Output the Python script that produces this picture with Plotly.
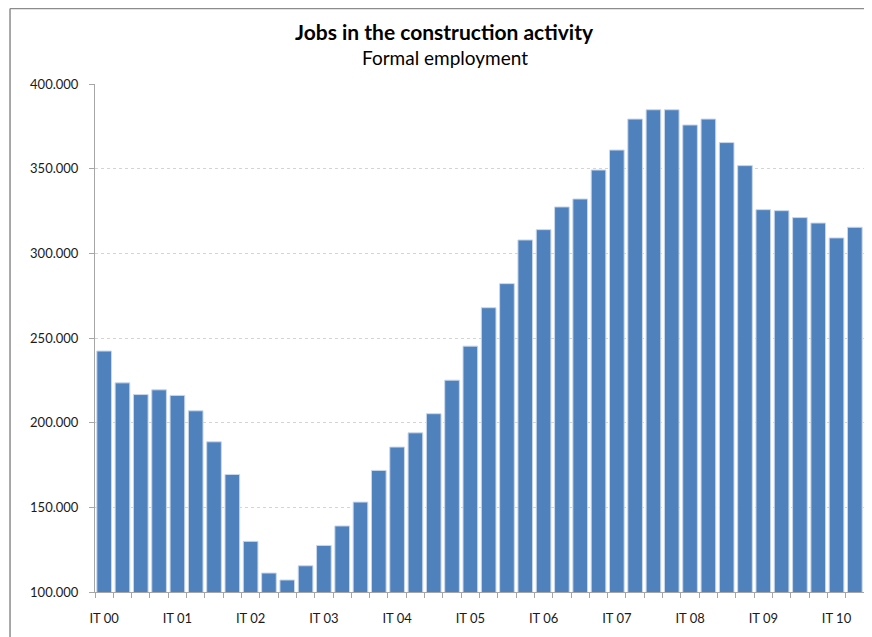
import plotly.graph_objects as go

# quarterly formal jobs in construction, 2000 Q1 .. 2010 Q2
quarters = [f"{q}T {y:02d}" for y in range(0, 11) for q in ("I", "II", "III", "IV")][:42]
jobs = [
    242300, 223500, 216600, 219400, 216100, 207000, 188700, 169400,
    129900, 111200, 107100, 115500, 127500, 139000, 153100, 171800,
    185600, 194000, 205300, 225100, 245200, 267900, 282100, 307900,
    314000, 327400, 332100, 349200, 361000, 379300, 384800, 384800,
    375800, 379300, 365400, 351800, 325800, 325200, 321100, 317900,
    309100, 315400,
]
tick_text = [q if q.startswith("IT ") else "" for q in quarters]

BAR_COLOR = "#4f81bd"
AXIS_COLOR = "#a6a6a6"
BORDER_COLOR = "#8c8c8c"
FONT = "Lato"


def build_figure() -> go.Figure:
    fig = go.Figure()
    fig.add_trace(
        go.Bar(
            x=quarters,
            y=jobs,
            marker=dict(color=BAR_COLOR, line=dict(color="#c9d7ea", width=1)),
            hoverinfo="x+y",
        )
    )

    fig.update_xaxes(
        type="category",
        tickmode="array",
        tickvals=quarters,
        ticktext=tick_text,
        tickson="boundaries",
        ticks="outside",
        ticklen=5,
        tickcolor=AXIS_COLOR,
        ticklabelstandoff=14,
        showline=True,
        linecolor=AXIS_COLOR,
        showgrid=False,
        tickangle=0,
        tickfont=dict(family=FONT, size=13, color="#1a1a1a"),
    )
    fig.update_yaxes(
        range=[100000, 400000],
        dtick=50000,
        tickformat=",d",
        ticks="outside",
        ticklen=5,
        tickcolor=AXIS_COLOR,
        ticklabelstandoff=8,
        showline=True,
        linecolor=AXIS_COLOR,
        gridcolor="#d4d4d4",
        griddash="dot",
        zeroline=False,
        tickfont=dict(family=FONT, size=13, color="#1a1a1a"),
    )

    # chart title and subtitle, centred on the whole chart box
    fig.add_annotation(
        text="<b>Jobs in the construction activity</b>",
        xref="paper", yref="paper", x=0.455, y=1.104,
        showarrow=False, xanchor="center", yanchor="middle",
        font=dict(family=FONT, size=21, color="#000000"),
    )
    fig.add_annotation(
        text="Formal employment",
        xref="paper", yref="paper", x=0.455, y=1.053,
        showarrow=False, xanchor="center", yanchor="middle",
        font=dict(family=FONT, size=19, color="#000000"),
    )

    # outer chart border: only top and left edges fall inside the picture
    fig.add_shape(
        type="line", xref="paper", yref="paper",
        x0=-0.1105, x1=1.1, y0=1.1486, y1=1.1486,
        line=dict(color=BORDER_COLOR, width=1.5),
    )
    fig.add_shape(
        type="line", xref="paper", yref="paper",
        x0=-0.1105, x1=-0.1105, y0=-0.2, y1=1.1486,
        line=dict(color=BORDER_COLOR, width=1.5),
    )

    # the page adds an 8px body margin, so the figure is 8px smaller
    fig.update_layout(
        width=864,
        height=629,
        margin=dict(l=87, r=8, t=76, b=45),
        plot_bgcolor="white",
        paper_bgcolor="white",
        bargap=0.2,
        separators=",.",
        showlegend=False,
        font=dict(family=FONT, color="#1a1a1a"),
    )
    return fig


if __name__ == "__main__":
    fig = build_figure()
    fig.write_html("out.html")
